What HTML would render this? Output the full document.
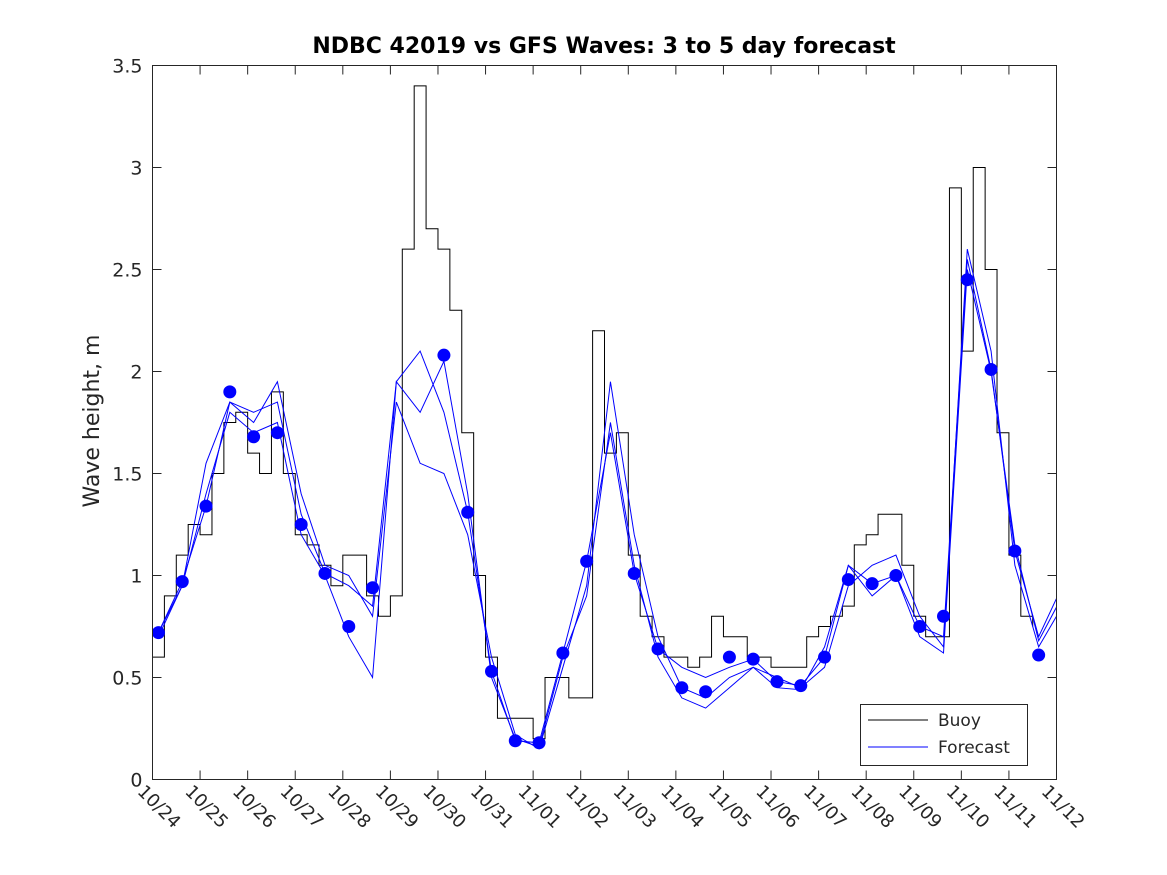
<!DOCTYPE html>
<html><head><meta charset="utf-8"><style>
body{margin:0;background:#fff;}
svg{display:block;font-family:"DejaVu Sans","Liberation Sans",sans-serif;}
</style></head><body>
<svg id="chart" width="1167" height="875" xmlns="http://www.w3.org/2000/svg">
<defs><clipPath id="plotclip"><rect x="152.5" y="65.5" width="904" height="714"/></clipPath></defs>
<rect x="0" y="0" width="1167" height="875" fill="#fff"/>
<text x="604" y="53" text-anchor="middle" font-size="22" font-weight="bold">NDBC 42019 vs GFS Waves: 3 to 5 day forecast</text>
<text transform="translate(99,421) rotate(-90)" text-anchor="middle" font-size="22" fill="#262626">Wave height, m</text>
<g id="grid"></g>
<g id="series" clip-path="url(#plotclip)"></g>
<rect x="152.5" y="65.5" width="904" height="714" fill="none" stroke="#262626" stroke-width="1"/>
<g>
<rect x="860.5" y="704.5" width="167" height="61" fill="#fff" stroke="#262626"/>
<line x1="868" y1="720" x2="928" y2="720" stroke="#000"/>
<text x="938" y="726" font-size="17" fill="#262626">Buoy</text>
<line x1="868" y1="747" x2="928" y2="747" stroke="#0000ff"/>
<text x="938" y="753" font-size="17" fill="#262626">Forecast</text>
</g>
</svg>
<script>
const xTickLabels=["10/24","10/25","10/26","10/27","10/28","10/29","10/30","10/31","11/01","11/02","11/03","11/04","11/05","11/06","11/07","11/08","11/09","11/10","11/11","11/12"];
const yTicks=[0,0.5,1,1.5,2,2.5,3,3.5];
// buoy, every 6h from 10/24 00z
const buoy=[0.6,0.9,1.1,1.25,1.2,1.5,1.75,1.8,1.6,1.5,1.9,1.5,1.2,1.15,1.05,0.95,1.1,1.1,0.9,0.8,0.9,2.6,3.4,2.7,2.6,2.3,1.7,1.0,0.6,0.3,0.3,0.3,0.2,0.5,0.5,0.4,0.4,2.2,1.6,1.7,1.1,0.8,0.7,0.6,0.6,0.55,0.6,0.8,0.7,0.7,0.6,0.6,0.55,0.55,0.55,0.7,0.75,0.8,0.85,1.15,1.2,1.3,1.3,1.05,0.8,0.7,0.7,2.9,2.1,3.0,2.5,1.7,1.1,0.8,0.75];
// forecast dots every 12h from 10/24 03z (null = missing)
const dots=[0.72,0.97,1.34,1.90,1.68,1.70,1.25,1.01,0.75,0.94,null,null,2.08,1.31,0.53,0.19,0.18,0.62,1.07,null,1.01,0.64,0.45,0.43,0.60,0.59,0.48,0.46,0.60,0.98,0.96,1.00,0.75,0.80,2.45,2.01,1.12,0.61];
const fcA=[0.72,0.97,1.34,1.85,1.80,1.85,1.30,1.01,0.95,0.85,1.95,2.10,1.80,1.31,0.53,0.19,0.18,0.62,1.07,1.70,1.01,0.64,0.55,0.50,0.55,0.59,0.48,0.46,0.60,1.05,0.96,1.00,0.75,0.70,2.55,2.01,1.12,0.70,0.95];
const fcB=[0.70,0.95,1.55,1.85,1.75,1.95,1.40,1.05,1.00,0.80,1.85,1.55,1.50,1.20,0.60,0.22,0.15,0.55,0.95,1.95,1.20,0.70,0.45,0.40,0.50,0.55,0.50,0.45,0.55,0.95,1.05,1.10,0.80,0.65,2.60,2.10,1.05,0.65,0.85];
const fcC=[0.72,0.95,1.40,1.80,1.70,1.75,1.20,1.00,0.70,0.50,1.95,1.80,2.05,1.40,0.50,0.20,0.16,0.60,0.90,1.75,1.05,0.60,0.40,0.35,0.45,0.55,0.45,0.44,0.65,1.05,0.90,1.00,0.70,0.62,2.50,2.00,1.15,0.68,0.90];
const X0=152.5,X1=1056.5,Y0=779.5,Y1=65.5,DAYS=19,YMAX=3.5;
const xs=d=>X0+(X1-X0)*d/DAYS;
const ys=v=>Y0-(Y0-Y1)*v/YMAX;
const NS="http://www.w3.org/2000/svg";
const grid=document.getElementById('grid'),ser=document.getElementById('series');
function mk(tag,attrs,parent){const e=document.createElementNS(NS,tag);for(const k in attrs)e.setAttribute(k,attrs[k]);parent.appendChild(e);return e;}
xTickLabels.forEach((t,i)=>{const x=xs(i);
 let l=mk('line',{x1:x,y1:Y0,x2:x,y2:Y0-9,stroke:'#262626'},grid);
 
 
 let l2=mk('line',{x1:x,y1:Y1,x2:x,y2:Y1+9,stroke:'#262626'},grid);
 
 
 let tx=mk('text',{x:0,y:0,'font-size':18,fill:'#262626',transform:`translate(${x-16},${Y0+13}) rotate(45)`},grid);
 tx.textContent=t;
 
 
});
yTicks.forEach(v=>{const y=ys(v);
 let l=mk('line',{x1:X0,y1:y,x2:X0+9,y2:y,stroke:'#262626'},grid);
 
 
 let l2=mk('line',{x1:X1,y1:y,x2:X1-9,y2:y,stroke:'#262626'},grid);
 
 
 let tx=mk('text',{x:X0-10,y:y+7,'text-anchor':'end','font-size':19,fill:'#262626'},grid);
 tx.textContent=String(v);
 
 
});
function line(arr,t0,dt,color,name,step){let d='';let prev=null;
 arr.forEach((v,i)=>{if(v===null){prev=null;return;}const x=xs(t0+i*dt),y=ys(v);
  if(prev===null)d+=`M${x},${y}`;else if(step)d+=`H${x}V${y}`;else d+=`L${x},${y}`;prev=v;});
 const p=mk('path',{d:d,fill:'none',stroke:color,'stroke-width':1},ser);
 
 }
line(buoy,0,0.25,'#000','buoy-line',true);
line(fcA,0.125,0.5,'#0000ff','forecast-line-a',false);
line(fcB,0.125,0.5,'#0000ff','forecast-line-b',false);
line(fcC,0.125,0.5,'#0000ff','forecast-line-c',false);
dots.forEach((v,i)=>{if(v===null)return;
 const c=mk('circle',{cx:xs(0.125+i*0.5),cy:ys(v),r:6.5,fill:'#0000ff'},ser);
 
 });
</script>
</body></html>
